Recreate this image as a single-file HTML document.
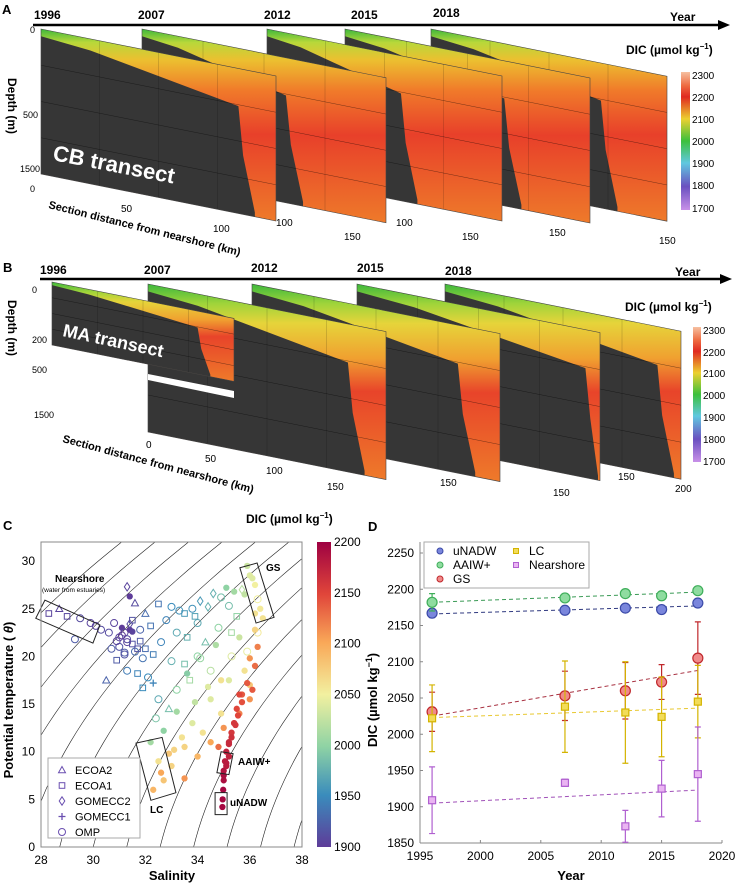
<!DOCTYPE html>
<html><head><meta charset="utf-8"><style>
body{margin:0;background:#fff;}
svg{display:block;font-family:"Liberation Sans",sans-serif;}
</style></head><body>
<svg id="fig" width="737" height="883" viewBox="0 0 737 883" xmlns="http://www.w3.org/2000/svg">
<defs>
<linearGradient id="gA" x1="0" y1="0" x2="0" y2="1">
<stop offset="0" stop-color="#3cb83c"/><stop offset="0.07" stop-color="#b8d83a"/><stop offset="0.16" stop-color="#ecc030"/>
<stop offset="0.32" stop-color="#f07a2a"/><stop offset="0.55" stop-color="#e8402a"/><stop offset="1" stop-color="#ee7a2a"/></linearGradient>
<linearGradient id="gB" x1="0" y1="0" x2="0" y2="1">
<stop offset="0" stop-color="#3cb83c"/><stop offset="0.1" stop-color="#9fd43a"/><stop offset="0.2" stop-color="#e6d43a"/>
<stop offset="0.38" stop-color="#f0a030"/><stop offset="0.55" stop-color="#e8442a"/><stop offset="1" stop-color="#ee7a2a"/></linearGradient>
<linearGradient id="cbAB" x1="0" y1="0" x2="0" y2="1">
<stop offset="0" stop-color="#f6c0a0"/><stop offset="0.1" stop-color="#ee6a40"/><stop offset="0.18" stop-color="#e02a20"/><stop offset="0.34" stop-color="#ecd030"/>
<stop offset="0.5" stop-color="#3cc03c"/><stop offset="0.66" stop-color="#60c8e0"/><stop offset="0.83" stop-color="#6a50c0"/><stop offset="1" stop-color="#c890e8"/></linearGradient>
<linearGradient id="cbC" x1="0" y1="0" x2="0" y2="1">
<stop offset="0" stop-color="#9e0142"/><stop offset="0.17" stop-color="#e0453a"/><stop offset="0.33" stop-color="#f9a858"/><stop offset="0.5" stop-color="#f2f0a0"/>
<stop offset="0.67" stop-color="#8fd3a4"/><stop offset="0.83" stop-color="#3a8cbc"/><stop offset="1" stop-color="#5e3c99"/></linearGradient>
</defs>

<!-- Panel A -->
<g id="panelA">
<text x="2" y="14" font-size="13" font-weight="bold">A</text>
<line x1="33" y1="25" x2="720" y2="25" stroke="#000" stroke-width="2.5"/>
<polygon points="718,20 730,25 718,30" fill="#000"/>
<g font-size="12" font-weight="bold">
<text x="34" y="19">1996</text><text x="138" y="19">2007</text><text x="264" y="19">2012</text><text x="351" y="19">2015</text><text x="433" y="17">2018</text><text x="670" y="21">Year</text></g>
<text x="626" y="54" font-size="12" font-weight="bold">DIC (µmol kg<tspan font-size="8" dy="-5">−1</tspan><tspan dy="5">)</tspan></text>
<g id="slabsA"></g>
<rect x="681" y="72" width="9" height="138" fill="url(#cbAB)"/>
<g font-size="10">
<text x="692" y="79">2300</text><text x="692" y="101">2200</text><text x="692" y="123">2100</text><text x="692" y="145">2000</text><text x="692" y="167">1900</text><text x="692" y="189">1800</text><text x="692" y="212">1700</text></g>
<text transform="translate(8,78) rotate(90)" font-size="12" font-weight="bold">Depth (m)</text>
<g font-size="9"><text x="30" y="33">0</text><text x="23" y="118">500</text><text x="20" y="172">1500</text><text x="30" y="192">0</text></g>
<text transform="translate(52,160) rotate(11)" font-size="22" font-weight="bold" fill="#fff">CB  transect</text>
<text transform="translate(48,208) rotate(14)" font-size="11" font-weight="bold">Section distance from nearshore (km)</text>
<g font-size="10"><text x="121" y="212">50</text><text x="213" y="232">100</text><text x="276" y="226">100</text><text x="344" y="240">150</text><text x="396" y="226">100</text><text x="462" y="240">150</text><text x="549" y="236">150</text><text x="659" y="244">150</text></g>
</g>

<!-- Panel B -->
<g id="panelB">
<text x="3" y="272" font-size="13" font-weight="bold">B</text>
<line x1="40" y1="279" x2="722" y2="279" stroke="#000" stroke-width="2.5"/>
<polygon points="720,274 732,279 720,284" fill="#000"/>
<g font-size="12" font-weight="bold">
<text x="40" y="274">1996</text><text x="144" y="274">2007</text><text x="251" y="272">2012</text><text x="357" y="272">2015</text><text x="445" y="275">2018</text><text x="675" y="276">Year</text></g>
<text x="625" y="311" font-size="12" font-weight="bold">DIC (µmol kg<tspan font-size="8" dy="-5">−1</tspan><tspan dy="5">)</tspan></text>
<g id="slabsB"></g>
<rect x="693" y="327" width="8" height="135" fill="url(#cbAB)"/>
<g font-size="10">
<text x="703" y="334">2300</text><text x="703" y="356">2200</text><text x="703" y="377">2100</text><text x="703" y="399">2000</text><text x="703" y="421">1900</text><text x="703" y="443">1800</text><text x="703" y="465">1700</text></g>
<text transform="translate(8,300) rotate(90)" font-size="12" font-weight="bold">Depth (m)</text>
<g font-size="9"><text x="32" y="293">0</text><text x="32" y="343">200</text><text x="32" y="373">500</text><text x="34" y="418">1500</text></g>
<text transform="translate(62,336) rotate(12)" font-size="18" font-weight="bold" fill="#fff">MA  transect</text>
<text transform="translate(62,442) rotate(15)" font-size="11" font-weight="bold">Section distance from nearshore (km)</text>
<g font-size="10"><text x="146" y="448">0</text><text x="205" y="462">50</text><text x="266" y="474">100</text><text x="327" y="490">150</text><text x="440" y="486">150</text><text x="553" y="496">150</text><text x="618" y="480">150</text><text x="675" y="492">200</text></g>
</g>

<!-- Panel C -->
<g id="panelC">
<text x="3" y="530" font-size="13" font-weight="bold">C</text>
<text x="246" y="523" font-size="12" font-weight="bold">DIC (µmol kg<tspan font-size="8" dy="-5">−1</tspan><tspan dy="5">)</tspan></text>
<g id="cContours"></g>
<g id="cPoints"></g>
<g id="cBoxes"></g>
<rect x="41" y="542" width="261" height="305" fill="none" stroke="#888" stroke-width="1"/>
<g id="cAxes" font-size="12"></g>
<text x="172" y="880" font-size="13" font-weight="bold" text-anchor="middle">Salinity</text>
<text transform="translate(13,700) rotate(-90)" font-size="13" font-weight="bold" text-anchor="middle">Potential temperature ( <tspan font-style="italic">θ</tspan>)</text>
<rect x="317" y="542" width="14" height="305" fill="url(#cbC)"/>
<g id="cbTicks" font-size="12"></g>
<g font-size="10" font-weight="bold">
<text x="55" y="582">Nearshore</text><text x="42" y="592" font-size="6.5" font-weight="normal">(water from estuaries)</text>
<text x="266" y="571">GS</text><text x="150" y="813">LC</text><text x="238" y="765">AAIW+</text><text x="230" y="806">uNADW</text></g>
<g>
<rect x="48" y="758" width="92" height="80" fill="#fff" stroke="#aaa"/>
<g id="cLegend" font-size="11"></g>
</g>
</g>

<!-- Panel D -->
<g id="panelD">
<text x="368" y="531" font-size="13" font-weight="bold">D</text>
<rect x="420" y="542" width="302" height="301" fill="none"/>
<line x1="420" y1="542" x2="420" y2="843" stroke="#888"/>
<line x1="420" y1="843" x2="722" y2="843" stroke="#888"/>
<g id="dAxes" font-size="12"></g>
<g id="dMarks"></g>
<text x="571" y="880" font-size="13" font-weight="bold" text-anchor="middle">Year</text>
<text transform="translate(377,700) rotate(-90)" font-size="13" font-weight="bold" text-anchor="middle">DIC (µmol kg<tspan font-size="9" dy="-5">−1</tspan><tspan dy="5">)</tspan></text>
<g>
<rect x="424" y="542" width="165" height="46" fill="#fff" stroke="#aaa"/>
<g id="dLegend" font-size="12"></g>
</g>
</g>
</svg>
<script>
// ---------- Panel D data ----------
const dYears = [1996, 2007, 2012, 2015, 2018];
const dSeriesNames = ["uNADW", "AAIW+", "GS", "LC", "Nearshore"];
const uNADW = [2167, 2171, 2174, 2172, 2181];
const uNADWErr = [6, 3, 4, 5, 5];
const aaiw = [2182, 2188, 2194, 2191, 2198];
const aaiwErr = [12, 4, 3, 5, 5];
const gs = [2031, 2053, 2060, 2072, 2105];
const gsErr = [27, 34, 39, 24, 50];
const lc = [2022, 2038, 2030, 2024, 2045];
const lcErr = [46, 63, 70, 55, 50];
const nearshore = [1909, 1933, 1873, 1925, 1945];
const nearshoreErr = [46, 5, 22, 39, 65];
const trendStart = [2166, 2182, 2025, 2023, 1905];
const trendEnd = [2177, 2196, 2088, 2036, 1923];
const dYTicks = [1850, 1900, 1950, 2000, 2050, 2100, 2150, 2200, 2250];
const dXTicks = [1995, 2000, 2005, 2010, 2015, 2020];

// ---------- Panel C data ----------
const cSal = [28.3,28.7,29,29.5,29.9,30.1,30.3,29.3,30.6,30.8,31,31.1,31.2,31.3,31.4,31.5,31,30.7,31.2,31.6,31.8,31.9,32,31.4,31.3,31.6,30.9,30.5,31.3,31.7,32.1,31.9,32.3,31.5,32,32.2,32.5,32.6,
33,33.5,33.8,34.1,33.2,33.6,34,34.3,33,33.5,32.5,32.9,32.4,34.6,35.2,35.5,34.8,35.3,34,33.2,33.7,34.5,32.7,32.2,
35.7,36,36.2,36.3,36.4,35.9,36.5,35.3,35.8,36,34.5,34.9,33.8,34.2,33.5,34,33,32.7,32.3,32.5,33.5,34.5,35,35.6,36,36.2,36.3,36.1,35.7,35.4,34.8,
35.3,35.2,35.1,35.05,35,35,34.98,34.96,34.95,35.4,35.5,35.6,35.2,35.1,
31.1,31.3,31.5,31.7,30.9,31.2,31.4,31.8,32.3,32.8,33.3,33.9,34.4,34.9,35.1,35.4,35.8,36.1,36.3,35.6,35.9,36.2,33.6,34.1,34.7,35.2,33.2,33.9,34.4,34.9,33.4,32.9,32.6,33.1,35.0,35.1,35.2,35.3,35.45,35.55,35.7,35.9,36.0,36.2];
const cTemp = [24.5,25,24.2,24,23.5,23.2,22.8,21.8,22.5,23.5,22,23,22.5,21.8,22.8,21.3,21,20.8,20.4,20.5,21.6,19.8,20.8,26.3,27.3,25.6,19.6,17.5,18.5,18.2,17.8,16.7,17.2,23.8,24.5,23.2,25.5,21.5,
25.2,24.5,25,25.8,22.5,22,23.5,21.5,19.5,19.2,15.5,14.5,13.5,26.6,25.3,24.2,23,22.5,20,16.5,17.5,18.5,12.2,11,
27,28.5,27.5,26,25,29.5,24,20,18.5,17,15.5,14,13,12,10.5,9.5,8.5,7,6,9,7.2,11,12.5,14,15.5,19,21,16.5,16,13,10.5,
12,11,10,9,8,7,6,5,4.2,13,14.5,16,9.5,8.5,
22.2,21.5,22.6,20.8,21.6,20.2,23.4,22.8,20.2,23.8,24.8,24.2,25.2,26.2,27.2,26.8,26.5,28.2,22.5,22,20.5,24.5,18.2,19.8,21.2,17.5,14.2,15.2,16.8,17.5,11.5,9.8,7.8,10.2,7.5,8.8,10.8,11.5,12.8,13.8,15.2,17.2,19.8,22.8];
const cDic = [1905,1905,1908,1910,1905,1905,1910,1920,1910,1905,1905,1900,1905,1910,1900,1915,1915,1920,1920,1930,1920,1935,1930,1900,1905,1910,1920,1925,1940,1945,1950,1950,1945,1915,1930,1935,1935,1945,
1950,1960,1955,1960,1970,1975,1970,1985,1975,1985,1970,1985,1990,1975,1985,2000,2000,2010,2000,2000,2010,2020,2000,2010,
2020,2040,2050,2050,2055,2030,2060,2040,2060,2080,2040,2060,2040,2060,2070,2090,2070,2080,2090,2060,2110,2100,2110,2120,2110,2130,2120,2140,2140,2140,2130,
2160,2170,2175,2180,2185,2190,2195,2195,2195,2160,2150,2150,2175,2180,
1900,1905,1905,1915,1905,1915,1910,1925,1940,1945,1955,1965,1975,1985,2000,2010,2025,2040,2055,2030,2045,2060,1995,2005,2015,2040,2010,2025,2040,2060,2060,2080,2100,2070,2190,2180,2170,2165,2160,2150,2145,2140,2110,2070];
const cMarker = [1,0,1,4,4,4,4,4,4,4,4,5,4,4,5,1,4,4,4,4,1,4,1,5,2,0,1,0,4,1,4,1,3,1,0,1,1,4,
4,1,4,2,4,1,4,0,4,1,4,0,4,2,4,1,4,1,4,4,1,4,5,5,
2,5,5,4,5,5,5,4,5,5,5,5,5,5,5,5,5,5,5,5,5,5,5,5,5,5,5,5,5,5,5,
5,5,5,5,5,5,5,5,5,5,5,5,5,5,
4,4,5,1,4,4,2,4,1,4,4,1,2,4,5,5,5,5,4,5,4,5,5,4,5,5,5,5,5,5,5,5,5,5,5,5,5,5,5,5,5,5,5,5];
const legendNamesC = ["ECOA2","ECOA1","GOMECC2","GOMECC1","OMP"];
const cXTicks = [28,30,32,34,36,38];
const cYTicks = [0,5,10,15,20,25,30];
const cbTicksC = [1900,1950,2000,2050,2100,2150,2200];
const sigmaLevels = [18,19,20,21,22,23,24,25,26,27,28,29,30];

const NS = "http://www.w3.org/2000/svg";
function mk(tag, attrs, parent){ const e=document.createElementNS(NS,tag); for(const k in attrs) e.setAttribute(k,attrs[k]); if(parent) parent.appendChild(e); return e; }

// ---------- Panels A / B slabs ----------
function slab(parent, L, R, t, H, f, grad, name){
  const s=0.2, w=R-L, tr=t+s*w;
  const g=mk("g",{},parent);
  
  
  const top=x=>t+s*(x-L);
  mk("polygon",{points:`${L},${t} ${R},${tr} ${R},${tr+H} ${L},${t+H}`,fill:`url(#${grad})`},g);
  const x1=L+0.5*w*f, x2=L+f*w, x3=Math.min(R-2,L+f*w+0.07*w);
  const pts=[[L,t+0.05*H],[L+0.25*w*f,top(L+0.25*w*f)+0.08*H],[x1,top(x1)+0.14*H],[x2,top(x2)+0.26*H],[x2+0.02*w,top(x2)+0.6*H],[x3,top(x3)+H*0.97],[x3,top(x3)+H],[L,t+H]];
  mk("polygon",{points:pts.map(p=>p.join(",")).join(" "),fill:"#363636"},g);
  for(let k=1;k<4;k++){ const yy=t+H*k/4; mk("line",{x1:L,y1:yy,x2:R,y2:yy+s*w,stroke:"#000","stroke-width":0.5,opacity:0.5},g); }
  for(let k=1;k<4;k++){ const xx=L+w*k/4; mk("line",{x1:xx,y1:top(xx),x2:xx,y2:top(xx)+H,stroke:"#000","stroke-width":0.4,opacity:0.35},g); }
  mk("polygon",{points:`${L},${t} ${R},${tr} ${R},${tr+H} ${L},${t+H}`,fill:"none",stroke:"#444","stroke-width":0.6},g);
}
const gA=document.getElementById("slabsA");
const AL=[41,142,267,345,431], AR=[276,386,502,590,667], Af=[0.84,0.59,0.57,0.65,0.72];
for(let i=4;i>=0;i--) slab(gA,AL[i],AR[i],29,145,Af[i],"gA","section-a-"+dYears[i]);
const gB=document.getElementById("slabsB");
const BL=[148,252,357,445], BR=[386,500,600,681], Bf=[0.84,0.83,0.94,0.9];
for(let i=3;i>=0;i--) slab(gB,BL[i],BR[i],284,148,Bf[i],"gB","section-b-"+dYears[i+1]);
mk("polygon",{points:"148,374 234,391 234,398 148,380",fill:"#fff"},gB);
slab(gB,52,234,282,63,0.8,"gB","section-b-1996");

// ---------- Panel C ----------
const xC=s=>41+(s-28)*26.1, yC=t=>847-t*9.53;
const cmapStops=[[1900,[94,60,153]],[1950,[58,140,188]],[2000,[143,211,164]],[2050,[242,240,160]],[2100,[249,168,88]],[2150,[224,69,58]],[2200,[158,1,66]]];
function cmap(v){ v=Math.max(1900,Math.min(2200,v)); for(let i=0;i<cmapStops.length-1;i++){const a=cmapStops[i],b=cmapStops[i+1]; if(v<=b[0]){const f=(v-a[0])/(b[0]-a[0]); return `rgb(${a[1].map((c,j)=>Math.round(c+(b[1][j]-c)*f)).join(",")})`;}} return "rgb(158,1,66)"; }
const cc=document.getElementById("cContours");
const clip=mk("clipPath",{id:"clipC"},document.querySelector("defs")); mk("rect",{x:41,y:542,width:261,height:305},clip);
cc.setAttribute("clip-path","url(#clipC)");
sigmaLevels.forEach(sg=>{
  let d=""; for(let T=0;T<=33;T+=1){ const S=35+(sg-27.9+0.07*T+0.0045*T*T)/0.78; d+=(T?"L":"M")+xC(S).toFixed(1)+","+yC(T).toFixed(1); }
  const p=mk("path",{d:d,fill:"none",stroke:"#222","stroke-width":0.6},cc);
  
  
});
const cp=document.getElementById("cPoints");
function marker(parent,type,x,y,col,sz){
  let e;
  if(type===0) e=mk("polygon",{points:`${x},${y-sz} ${x-sz},${y+sz*0.8} ${x+sz},${y+sz*0.8}`,fill:"none",stroke:col,"stroke-width":1},parent);
  else if(type===1) e=mk("rect",{x:x-sz*0.8,y:y-sz*0.8,width:sz*1.6,height:sz*1.6,fill:"none",stroke:col,"stroke-width":1},parent);
  else if(type===2) e=mk("polygon",{points:`${x},${y-sz*1.2} ${x+sz*0.8},${y} ${x},${y+sz*1.2} ${x-sz*0.8},${y}`,fill:"none",stroke:col,"stroke-width":1},parent);
  else if(type===3) e=mk("path",{d:`M${x-sz},${y}H${x+sz}M${x},${y-sz}V${y+sz}`,stroke:col,"stroke-width":1.3},parent);
  else if(type===4) e=mk("circle",{cx:x,cy:y,r:sz,fill:"none",stroke:col,"stroke-width":1},parent);
  else e=mk("circle",{cx:x,cy:y,r:sz*0.9,fill:col},parent);
  return e;
}
for(let i=0;i<cSal.length;i++){
  const e=marker(cp,cMarker[i],xC(cSal[i]),yC(cTemp[i]),cmap(cDic[i]),3.5);
  
  
}
const boxesC=[[[27.8,24.0],[28.15,25.9],[30.26,23.3],[29.99,21.4]],[[35.62,29.3],[36.28,29.8],[36.93,24.1],[36.24,23.5]],[[31.64,10.9],[32.64,11.5],[33.17,5.7],[32.21,4.9]],[[34.9,10],[35.36,9.8],[35.2,7.6],[34.74,7.8]],[[34.67,5.7],[35.13,5.7],[35.13,3.4],[34.67,3.4]]];
const boxNames=["nearshore-box","gs-box","lc-box","aaiw-box","unadw-box"];
const cb=document.getElementById("cBoxes");
boxesC.forEach((b,i)=>{ const p=mk("polygon",{points:b.map(q=>xC(q[0])+","+yC(q[1])).join(" "),fill:"none",stroke:"#222","stroke-width":1},cb);
  
   });
const ca=document.getElementById("cAxes");
cXTicks.forEach(v=>{ const t=mk("text",{x:xC(v),y:864,"text-anchor":"middle"},ca); t.textContent=v;
  
   });
cYTicks.forEach(v=>{ const t=mk("text",{x:35,y:yC(v)+4,"text-anchor":"end"},ca); t.textContent=v;
  
   });
const cbt=document.getElementById("cbTicks");
cbTicksC.forEach(v=>{ const t=mk("text",{x:334,y:847-(v-1900)/300*305+4},cbt); t.textContent=v;
  
   });
const cl=document.getElementById("cLegend");
legendNamesC.forEach((n,i)=>{ const y=770+i*15.5; marker(cl,i,62,y,"#6a4fb0",3.5);
  const t=mk("text",{x:75,y:y+4},cl); t.textContent=n;
  
   });

// ---------- Panel D ----------
const xD=yr=>420+(yr-1995)*(302/25), yD=v=>843-(v-1850)*(290/400);
const da=document.getElementById("dAxes");
dYTicks.forEach(v=>{ const t=mk("text",{x:414,y:yD(v)+4,"text-anchor":"end"},da); t.textContent=v;
  
  
  mk("line",{x1:420,y1:yD(v),x2:423,y2:yD(v),stroke:"#888"},da); });
dXTicks.forEach(v=>{ const t=mk("text",{x:xD(v),y:860,"text-anchor":"middle"},da); t.textContent=v;
  
  
  mk("line",{x1:xD(v),y1:843,x2:xD(v),y2:840,stroke:"#888"},da); });
const seriesVals=[uNADW,aaiw,gs,lc,nearshore];
const seriesErr=[uNADWErr,aaiwErr,gsErr,lcErr,nearshoreErr];
const seriesFill=["#7a86dc","#8fdca0","#f08a8a","#f2dc5a","#eab4f2"];
const seriesStroke=["#3b4aa8","#3fae5a","#c0282c","#d4b400","#b060d0"];
const seriesLine=["#303a80","#3a9a55","#a83040","#e8c830","#a050b8"];
const seriesShape=[0,0,0,1,1];
const dm=document.getElementById("dMarks");
for(let s=0;s<5;s++){
  const ln=mk("line",{x1:xD(dYears[0]),y1:yD(trendStart[s]),x2:xD(dYears[4]),y2:yD(trendEnd[s]),stroke:seriesLine[s],"stroke-width":1,"stroke-dasharray":"4,3"},dm);
  
  
}
for(let s=0;s<5;s++){
  for(let i=0;i<dYears.length;i++){
    const x=xD(dYears[i]), y=yD(seriesVals[s][i]), e1=yD(seriesVals[s][i]+seriesErr[s][i]), e2=yD(seriesVals[s][i]-seriesErr[s][i]);
    const eb=mk("path",{d:`M${x},${e1}V${e2}M${x-3},${e1}H${x+3}M${x-3},${e2}H${x+3}`,stroke:seriesStroke[s],"stroke-width":1.2,fill:"none"},dm);
    
    
    let m;
    if(seriesShape[s]===0) m=mk("circle",{cx:x,cy:y,r:5,fill:seriesFill[s],stroke:seriesStroke[s],"stroke-width":1.2},dm);
    else m=mk("rect",{x:x-3.5,y:y-3.5,width:7,height:7,fill:seriesFill[s],stroke:seriesStroke[s],"stroke-width":1.2},dm);
    
    
  }
}
const dl=document.getElementById("dLegend");
const legPos=[[440,551],[440,565],[440,579],[516,551],[516,565]];
for(let s=0;s<5;s++){
  const [lx,ly]=legPos[s];
  if(seriesShape[s]===0) mk("circle",{cx:lx,cy:ly,r:3,fill:seriesFill[s],stroke:seriesStroke[s]},dl);
  else mk("rect",{x:lx-2.5,y:ly-2.5,width:5,height:5,fill:seriesFill[s],stroke:seriesStroke[s]},dl);
  const t=mk("text",{x:lx+13,y:ly+4},dl); t.textContent=dSeriesNames[s];
  
  
}
</script>
</body></html>
